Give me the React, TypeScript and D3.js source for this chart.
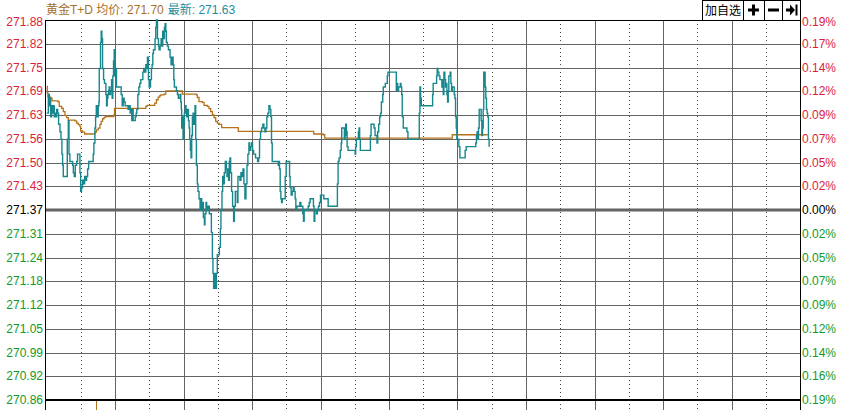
import React from "react";
import * as d3 from "d3";

// ---- data ----
const PRE_CLOSE = 271.37;
const MAX_DEV = 0.51;
const SESSION_MINUTES = 660;
const GRID_STEP_MINUTES = 30;

const leftTickLabels = ["271.88","271.82","271.75","271.69","271.63","271.56","271.50","271.43","271.37","271.31","271.24","271.18","271.12","271.05","270.99","270.92","270.86"];
const rightTickLabels = ["0.19%","0.17%","0.14%","0.12%","0.09%","0.07%","0.05%","0.02%","0.00%","0.02%","0.05%","0.07%","0.09%","0.12%","0.14%","0.16%","0.19%"];

const priceMinutes = [0.1,1.6,2.5,3.1,3.6,4.5,5.4,6.0,6.8,7.7,8.3,8.9,9.8,10.6,11.8,12.7,13.5,14.1,14.7,17.6,18.2,19.1,19.7,20.5,22.0,22.9,23.5,24.3,25.2,26.4,27.2,28.4,29.3,29.9,30.7,31.6,32.5,33.4,34.2,35.1,36.0,36.9,40.4,40.9,41.5,42.4,43.0,43.6,44.1,44.7,45.3,45.9,46.2,46.8,47.3,47.9,48.5,49.1,50.0,50.8,51.4,52.0,52.6,53.2,53.8,54.3,54.9,55.5,56.1,57.0,57.5,58.1,58.7,59.3,59.9,60.8,61.3,64.8,65.4,66.3,67.2,68.0,68.9,70.1,71.5,72.4,73.3,74.2,74.7,75.3,75.9,76.8,77.7,78.5,79.1,80.0,80.9,81.7,82.6,83.5,84.4,85.2,86.1,87.0,87.9,88.4,89.3,89.9,90.5,91.1,91.9,92.5,93.1,93.7,94.6,95.1,95.7,96.3,97.2,98.1,98.6,99.5,100.4,101.3,101.8,102.7,103.3,103.9,104.5,105.0,105.9,106.8,107.7,108.2,109.1,110.0,110.9,111.5,112.0,112.9,113.8,114.7,115.5,116.1,117.0,117.6,118.1,118.4,119.0,119.6,120.2,120.8,121.6,122.2,122.8,123.4,124.3,124.9,125.4,126.0,126.6,127.2,127.8,128.4,128.9,129.5,130.1,130.7,131.3,132.1,132.7,133.6,134.5,135.1,135.9,136.8,137.4,138.3,138.8,139.7,140.3,140.9,141.8,142.6,143.5,144.4,145.3,145.8,146.4,147.0,147.6,148.2,148.8,149.6,150.5,151.4,152.3,152.8,153.7,154.3,155.2,155.7,156.6,157.5,158.1,159.0,159.5,160.1,160.7,161.3,162.1,163.0,163.9,164.5,165.4,166.2,167.1,167.7,168.6,169.4,170.3,171.2,172.1,172.9,173.8,174.7,175.6,176.4,177.3,177.9,178.8,179.6,180.5,181.4,182.3,183.1,184.0,184.9,185.8,186.6,187.5,188.4,189.5,190.4,191.3,192.2,193.0,193.9,194.8,195.7,196.5,197.1,197.7,198.6,200.6,201.8,203.0,203.5,204.1,204.7,205.3,205.9,206.5,208.2,209.1,209.9,212.0,212.9,213.4,214.3,215.2,216.1,216.9,217.8,218.4,219.3,220.1,221.0,221.9,222.8,223.6,224.5,225.1,225.7,229.2,230.1,230.9,233.3,233.8,234.4,235.0,235.6,236.5,237.3,238.2,239.1,240.0,242.0,242.9,245.8,246.7,254.2,254.8,255.4,256.3,257.3,258.1,258.6,260.4,260.9,261.5,262.1,262.7,263.3,264.1,265.0,270.3,270.8,271.4,272.3,273.2,273.8,274.3,274.9,282.5,283.7,284.3,286.3,286.9,287.8,288.6,289.5,290.1,291.0,291.8,292.7,293.3,293.9,294.5,295.0,296.8,297.7,298.5,299.1,305.8,306.4,307.0,307.6,308.4,309.3,309.9,310.5,311.1,311.6,312.5,314.9,315.7,316.6,325.9,326.5,327.1,327.7,328.3,337.6,338.2,338.7,341.1,341.7,342.2,342.8,343.7,344.6,345.5,346.3,346.9,347.5,348.1,348.9,349.5,350.1,350.7,351.3,351.9,352.4,353.0,353.6,354.2,354.8,355.4,355.9,356.5,357.1,357.7,358.3,358.9,359.4,360.3,361.2,362.1,365.9,366.7,367.6,375.5,376.0,376.6,377.2,377.8,378.4,379.0,380.1,380.7,381.3,381.9,382.5,383.0,383.6,384.2,384.8,385.4,385.9,386.5,387.1,387.7];
const prices = [271.63,271.68,271.65,271.67,271.62,271.65,271.63,271.65,271.62,271.63,271.62,271.64,271.63,271.60,271.58,271.56,271.52,271.49,271.46,271.46,271.56,271.61,271.52,271.50,271.50,271.49,271.47,271.46,271.49,271.50,271.52,271.52,271.47,271.42,271.43,271.45,271.44,271.46,271.45,271.46,271.48,271.50,271.50,271.52,271.55,271.59,271.62,271.65,271.63,271.62,271.65,271.66,271.75,271.75,271.82,271.85,271.83,271.75,271.72,271.71,271.71,271.68,271.65,271.67,271.68,271.69,271.70,271.68,271.69,271.72,271.67,271.73,271.77,271.80,271.73,271.75,271.70,271.70,271.68,271.65,271.67,271.66,271.65,271.65,271.64,271.65,271.63,271.64,271.61,271.64,271.61,271.61,271.62,271.63,271.64,271.68,271.70,271.71,271.72,271.72,271.74,271.75,271.74,271.76,271.75,271.78,271.72,271.70,271.70,271.72,271.75,271.76,271.79,271.80,271.80,271.83,271.86,271.88,271.83,271.81,271.80,271.81,271.83,271.81,271.85,271.83,271.86,271.87,271.85,271.82,271.81,271.80,271.80,271.78,271.76,271.78,271.76,271.72,271.70,271.70,271.69,271.68,271.67,271.67,271.68,271.66,271.64,271.59,271.62,271.56,271.60,271.63,271.65,271.64,271.62,271.64,271.61,271.59,271.56,271.53,271.51,271.57,271.62,271.63,271.60,271.62,271.65,271.56,271.49,271.44,271.42,271.40,271.37,271.40,271.37,271.39,271.35,271.33,271.36,271.39,271.38,271.37,271.38,271.36,271.36,271.31,271.24,271.20,271.16,271.20,271.16,271.16,271.20,271.25,271.25,271.27,271.32,271.37,271.42,271.46,271.44,271.47,271.50,271.48,271.46,271.48,271.45,271.50,271.51,271.47,271.42,271.38,271.34,271.38,271.42,271.42,271.39,271.46,271.46,271.45,271.47,271.46,271.48,271.44,271.40,271.44,271.49,271.52,271.55,271.53,271.54,271.55,271.53,271.52,271.52,271.51,271.51,271.50,271.51,271.56,271.58,271.59,271.60,271.59,271.58,271.59,271.62,271.63,271.65,271.64,271.62,271.55,271.50,271.50,271.50,271.50,271.49,271.50,271.48,271.42,271.40,271.39,271.40,271.40,271.46,271.50,271.50,271.46,271.43,271.41,271.42,271.43,271.42,271.40,271.37,271.38,271.38,271.38,271.39,271.38,271.38,271.36,271.34,271.37,271.38,271.39,271.40,271.40,271.38,271.34,271.37,271.37,271.36,271.37,271.38,271.39,271.41,271.41,271.40,271.40,271.38,271.38,271.44,271.50,271.51,271.53,271.55,271.59,271.59,271.56,271.57,271.60,271.58,271.54,271.53,271.53,271.52,271.54,271.56,271.56,271.58,271.59,271.56,271.53,271.53,271.57,271.60,271.60,271.59,271.57,271.57,271.55,271.58,271.60,271.62,271.63,271.66,271.66,271.68,271.70,271.71,271.71,271.73,271.74,271.74,271.69,271.71,271.69,271.70,271.70,271.71,271.70,271.68,271.62,271.59,271.59,271.58,271.56,271.56,271.63,271.70,271.67,271.65,271.65,271.68,271.71,271.71,271.73,271.75,271.74,271.73,271.72,271.72,271.70,271.72,271.68,271.74,271.72,271.70,271.71,271.68,271.66,271.69,271.73,271.73,271.74,271.71,271.69,271.70,271.70,271.70,271.68,271.67,271.62,271.59,271.56,271.56,271.54,271.51,271.51,271.53,271.54,271.54,271.55,271.57,271.58,271.56,271.59,271.64,271.64,271.61,271.57,271.59,271.64,271.74,271.74,271.70,271.67,271.64,271.63,271.62,271.56,271.54];

const avgMinutes = [0.1,0.7,1.3,3.6,4.8,10.1,11.2,13.3,14.7,16.2,17.6,19.1,24.9,26.4,27.8,29.3,29.9,31.6,33.4,40.9,42.4,43.8,45.3,46.8,47.9,49.1,50.3,51.4,58.4,59.0,59.6,86.1,87.0,88.1,93.4,94.8,96.3,97.8,99.2,100.1,103.0,104.5,118.4,119.0,131.3,132.1,133.6,136.5,138.0,140.9,142.3,143.8,145.3,146.7,148.2,149.6,151.1,153.4,167.1,168.0,233.6,234.1,242.3,243.7,354.8,355.4,385.9];
const avgPrices = [271.702,271.684,271.673,271.670,271.663,271.660,271.648,271.643,271.634,271.624,271.618,271.611,271.609,271.603,271.599,271.594,271.582,271.579,271.574,271.574,271.579,271.585,271.590,271.600,271.608,271.615,271.618,271.621,271.621,271.625,271.643,271.643,271.648,271.651,271.651,271.657,271.666,271.673,271.677,271.679,271.681,271.690,271.690,271.681,271.679,271.672,271.661,271.659,271.651,271.648,271.642,271.634,271.625,271.618,271.608,271.603,271.600,271.591,271.591,271.581,271.581,271.574,271.572,271.563,271.563,271.572,271.574];

const headerName = "黄金T+D";
const headerAvgLabel = "均价:";
const headerAvgValue = "271.70";
const headerLastLabel = "最新:";
const headerLastValue = "271.63";
const buttonLabel = "加自选";

// ---- styles ----
const W = 844, H = 410;
const LEFT = 45.5, RIGHT = 800.5, TOP = 20, BOTTOM = 400;
const FONT = "'Liberation Sans', Arial, 'Noto Sans CJK SC', sans-serif";
const RED = "#dc1e3c";
const GREEN = "#139a28";
const GRID = "#646464";
const PRICE_COLOR = "#17878d";
const AVG_COLOR = "#b5731b";

export default function App() {
  const x = d3.scaleLinear().domain([0, SESSION_MINUTES]).range([46.5, 800]);
  const y = d3.scaleLinear().domain([PRE_CLOSE - MAX_DEV, PRE_CLOSE + MAX_DEV]).range([BOTTOM, TOP]);

  const nLevels = leftTickLabels.length;
  const levels = d3.range(nLevels).map((i) => PRE_CLOSE + MAX_DEV - (i * 2 * MAX_DEV) / (nLevels - 1));
  const midIndex = (nLevels - 1) / 2;

  const vTicks = d3.range(GRID_STEP_MINUTES, SESSION_MINUTES, GRID_STEP_MINUTES);

  const priceData = priceMinutes.map((m, i) => [m, prices[i]] as [number, number]);
  const avgData = avgMinutes.map((m, i) => [m, avgPrices[i]] as [number, number]);
  const line = d3.line<[number, number]>().x((d) => x(d[0])).y((d) => y(d[1])).curve(d3.curveStepAfter);
  const avgLine = d3.line<[number, number]>().x((d) => x(d[0])).y((d) => y(d[1])).curve(d3.curveStepAfter);

  const labelColor = (i: number) => (i < midIndex ? RED : i > midIndex ? GREEN : "#000");
  const labelY = (i: number) => Math.max(y(levels[i]), 22);

  return (
    <svg width={W} height={H} style={{ position: "absolute", left: 0, top: 0, background: "#fff" }} fontFamily={FONT}>
      <rect x={0} y={0} width={W} height={H} fill="#fff" />
      {/* vertical grid */}
      {vTicks.map((m, i) => {
        const xx = Math.round(x(m)) + 0.5;
        const dotted = (i % 2) === 0;
        return (
          <line key={"v" + m} x1={xx} x2={xx} y1={TOP} y2={H} stroke={dotted ? "#444" : GRID}
            strokeWidth={1} strokeDasharray={dotted ? "1 3" : undefined} />
        );
      })}
      {/* horizontal grid */}
      {levels.map((lv, i) => {
        if (i === 0 || i === nLevels - 1) return null;
        const yy = Math.round(y(lv)) + 0.5;
        const mid = i === midIndex;
        return (
          <line key={"h" + i} x1={LEFT} x2={RIGHT} y1={mid ? Math.round(y(lv)) : yy} y2={mid ? Math.round(y(lv)) : yy}
            stroke={GRID} strokeWidth={mid ? 3 : 1} />
        );
      })}
      {/* borders */}
      <line x1={LEFT} x2={RIGHT} y1={TOP + 0.5} y2={TOP + 0.5} stroke="#000" strokeWidth={1} />
      <line x1={LEFT} x2={RIGHT} y1={BOTTOM} y2={BOTTOM} stroke="#000" strokeWidth={2} />
      <line x1={LEFT} x2={LEFT} y1={TOP} y2={H} stroke="#000" strokeWidth={1} />
      <line x1={RIGHT} x2={RIGHT} y1={0} y2={H} stroke="#000" strokeWidth={1} />
      <line x1={96.5} x2={96.5} y1={BOTTOM + 1} y2={H} stroke={AVG_COLOR} strokeWidth={1} />

      {/* series */}
      <path d={avgLine(avgData) || ""} fill="none" stroke={AVG_COLOR} strokeWidth={1.3} />
      <path d={line(priceData) || ""} fill="none" stroke={PRICE_COLOR} strokeWidth={1.4} strokeLinejoin="miter" />

      {/* left labels */}
      {leftTickLabels.map((t, i) => (
        <text key={"l" + i} x={43} y={labelY(i)} textAnchor="end" dominantBaseline="central" fontSize={12} fill={labelColor(i)}>{t}</text>
      ))}
      {/* right labels */}
      {rightTickLabels.map((t, i) => (
        <text key={"r" + i} x={802} y={labelY(i)} textAnchor="start" dominantBaseline="central" fontSize={12} fill={labelColor(i)}>{t}</text>
      ))}

      {/* header */}
      <text x={46} y={14} fontSize={12}>
        <tspan fill="#a8711f">{headerName} {headerAvgLabel} {headerAvgValue}</tspan>
        <tspan fill="#1b8c9c" dx={4}>{headerLastLabel} {headerLastValue}</tspan>
      </text>

      {/* buttons */}
      <g stroke="#000" strokeWidth={1} fill="#fff">
        <rect x={702.5} y={0.5} width={98} height={20} />
        <line x1={743.5} x2={743.5} y1={0} y2={20} />
        <line x1={764.5} x2={764.5} y1={0} y2={20} />
        <line x1={782.5} x2={782.5} y1={0} y2={20} />
      </g>
      <text x={723} y={15} textAnchor="middle" fontSize={12} fill="#000">{buttonLabel}</text>
      <g fill="#000">
        <rect x={748} y={8.5} width={11} height={3} />
        <rect x={752} y={4.5} width={3} height={11} />
        <rect x={768} y={8.5} width={11} height={3} />
        <rect x={786} y={8.5} width={4} height={3} />
        <path d="M790,4.5 L795,10 L790,15.5 Z" />
        <rect x={795.5} y={4.5} width={2} height={11} />
      </g>
    </svg>
  );
}
